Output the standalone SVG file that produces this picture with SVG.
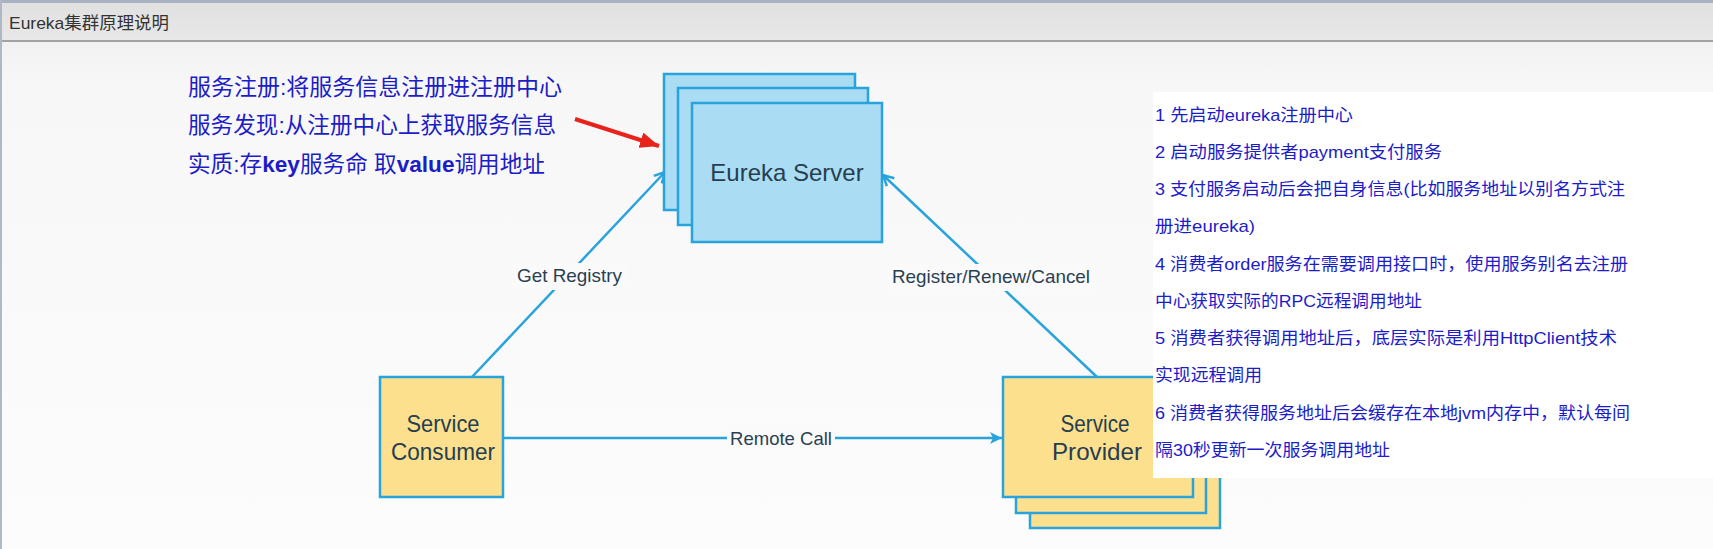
<svg xmlns="http://www.w3.org/2000/svg" width="1713" height="549" viewBox="0 0 1713 549">
<style>
.box-b{fill:#aadcf4;stroke:#29a3dc;stroke-width:2.5}
.box-y{fill:#fce08e;stroke:#29a3dc;stroke-width:2.5}
.node-t{font-family:"Liberation Sans",Arial,sans-serif;fill:#263e50;text-anchor:middle}
.lbl{font-family:"Liberation Sans",Arial,sans-serif;fill:#2a3f52;font-size:19px}
.conn{stroke:#29a3dc;stroke-width:2.5;fill:none}
.note{font-family:"Liberation Sans","Noto Sans CJK SC",sans-serif;fill:#1c1cc8}
.lbl-bg{fill:#fafafa}
</style>
<defs>
<linearGradient id="bg" x1="0" y1="0" x2="0" y2="1">
<stop offset="0" stop-color="#ebebeb"/>
<stop offset="0.15" stop-color="#f7f7f7"/>
<stop offset="1" stop-color="#fcfcfc"/>
</linearGradient>
<linearGradient id="tb" x1="0" y1="0" x2="0" y2="1">
<stop offset="0" stop-color="#e0e0e0"/>
<stop offset="1" stop-color="#e8e8e8"/>
</linearGradient>
<marker id="open" viewBox="0 0 14 14" markerWidth="14" markerHeight="14" refX="12.5" refY="7" orient="auto" markerUnits="userSpaceOnUse">
<path d="M2,1.5 L12.5,7 L2,12.5" fill="none" stroke="#29a3dc" stroke-width="2.5"/>
</marker>
<marker id="solid" viewBox="0 0 14 14" markerWidth="14" markerHeight="14" refX="13" refY="7" orient="auto" markerUnits="userSpaceOnUse">
<path d="M1,1 L13,7 L1,13 L4,7 z" fill="#29a3dc"/>
</marker>
<marker id="red" viewBox="0 0 20 16" markerWidth="20" markerHeight="16" refX="19" refY="8" orient="auto" markerUnits="userSpaceOnUse">
<path d="M0,0 L19,8 L0,16 z" fill="#e8231b"/>
</marker>
</defs>

<!-- window chrome -->
<rect x="0" y="0" width="1713" height="549" fill="url(#bg)"/>
<rect x="0" y="0" width="1713" height="41" fill="url(#tb)"/>
<rect x="0" y="0" width="1713" height="3" fill="#a9b1c2"/>
<rect x="0" y="40" width="1713" height="2" fill="#a3a3a3"/>
<rect x="0" y="0" width="2" height="549" fill="#b0b8c8"/>
<text x="9" y="28.5" font-family="'Liberation Sans','Noto Sans CJK SC',sans-serif" font-size="17" fill="#333" textLength="160" lengthAdjust="spacingAndGlyphs">Eureka集群原理说明</text>

<!-- left notes -->
<g id="left-notes" class="note" font-size="22.5">
<text x="188" y="94.5" textLength="374" lengthAdjust="spacingAndGlyphs">服务注册:将服务信息注册进注册中心</text>
<text x="188" y="133" textLength="368" lengthAdjust="spacingAndGlyphs">服务发现:从注册中心上获取服务信息</text>
<text x="188" y="171.5" textLength="357" lengthAdjust="spacingAndGlyphs">实质:存<tspan font-weight="bold">key</tspan>服务命 取<tspan font-weight="bold">value</tspan>调用地址</text>
</g>

<!-- connectors -->
<g id="connectors">
<line x1="575" y1="119" x2="659" y2="146" stroke="#e8231b" stroke-width="4" marker-end="url(#red)"/>
<line class="conn" x1="472" y1="377" x2="665" y2="172" marker-end="url(#open)"/>
<line class="conn" x1="1097" y1="377" x2="883" y2="175" marker-end="url(#open)"/>
<line class="conn" x1="503" y1="438" x2="1002" y2="438" marker-end="url(#solid)"/>
<rect class="lbl-bg" x="512" y="263" width="115" height="27"/>
<text class="lbl" x="517" y="282" textLength="105" lengthAdjust="spacingAndGlyphs">Get Registry</text>
<rect class="lbl-bg" x="887" y="264" width="208" height="27"/>
<text class="lbl" x="892" y="283" textLength="198" lengthAdjust="spacingAndGlyphs">Register/Renew/Cancel</text>
<rect class="lbl-bg" x="727" y="427" width="108" height="22"/>
<text class="lbl" x="730" y="445" textLength="102" lengthAdjust="spacingAndGlyphs">Remote Call</text>
</g>

<!-- Eureka Server -->
<g id="eureka-server">
<rect class="box-b" x="664" y="74" width="191" height="136"/>
<rect class="box-b" x="678" y="88" width="190" height="137"/>
<rect class="box-b" x="692" y="103" width="190" height="139"/>
<text class="node-t" x="787" y="180.5" font-size="24">Eureka Server</text>
</g>

<!-- Service Consumer -->
<g id="service-consumer">
<rect class="box-y" x="380" y="377" width="123" height="120"/>
<text class="node-t" x="443" y="432" font-size="24" textLength="73" lengthAdjust="spacingAndGlyphs">Service</text>
<text class="node-t" x="443" y="460" font-size="24" textLength="104" lengthAdjust="spacingAndGlyphs">Consumer</text>
</g>

<!-- Service Provider -->
<g id="service-provider">
<rect class="box-y" x="1030" y="408" width="190" height="120"/>
<rect class="box-y" x="1016" y="393" width="190" height="120"/>
<rect class="box-y" x="1003" y="377" width="190" height="120"/>
<text class="node-t" x="1095" y="432" font-size="24" textLength="69" lengthAdjust="spacingAndGlyphs">Service</text>
<text class="node-t" x="1097" y="460" font-size="24" textLength="90" lengthAdjust="spacingAndGlyphs">Provider</text>
</g>

<!-- right notes panel -->
<g id="right-notes">
<rect x="1153" y="92" width="560" height="386" fill="#ffffff"/>
<g class="note" font-size="17">
<text x="1155" y="120.5" textLength="198" lengthAdjust="spacingAndGlyphs">1 先启动eureka注册中心</text>
<text x="1155" y="157.8" textLength="287" lengthAdjust="spacingAndGlyphs">2 启动服务提供者payment支付服务</text>
<text x="1155" y="195" textLength="470" lengthAdjust="spacingAndGlyphs">3 支付服务启动后会把自身信息(比如服务地址以别名方式注</text>
<text x="1155" y="232.3" textLength="100" lengthAdjust="spacingAndGlyphs">册进eureka)</text>
<text x="1155" y="269.6" textLength="473" lengthAdjust="spacingAndGlyphs">4 消费者order服务在需要调用接口时，使用服务别名去注册</text>
<text x="1155" y="306.9" textLength="267" lengthAdjust="spacingAndGlyphs">中心获取实际的RPC远程调用地址</text>
<text x="1155" y="344.1" textLength="462" lengthAdjust="spacingAndGlyphs">5 消费者获得调用地址后，底层实际是利用HttpClient技术</text>
<text x="1155" y="381.4" textLength="107" lengthAdjust="spacingAndGlyphs">实现远程调用</text>
<text x="1155" y="418.7" textLength="475" lengthAdjust="spacingAndGlyphs">6 消费者获得服务地址后会缓存在本地jvm内存中，默认每间</text>
<text x="1155" y="456" textLength="235" lengthAdjust="spacingAndGlyphs">隔30秒更新一次服务调用地址</text>
</g>
</g>
</svg>
